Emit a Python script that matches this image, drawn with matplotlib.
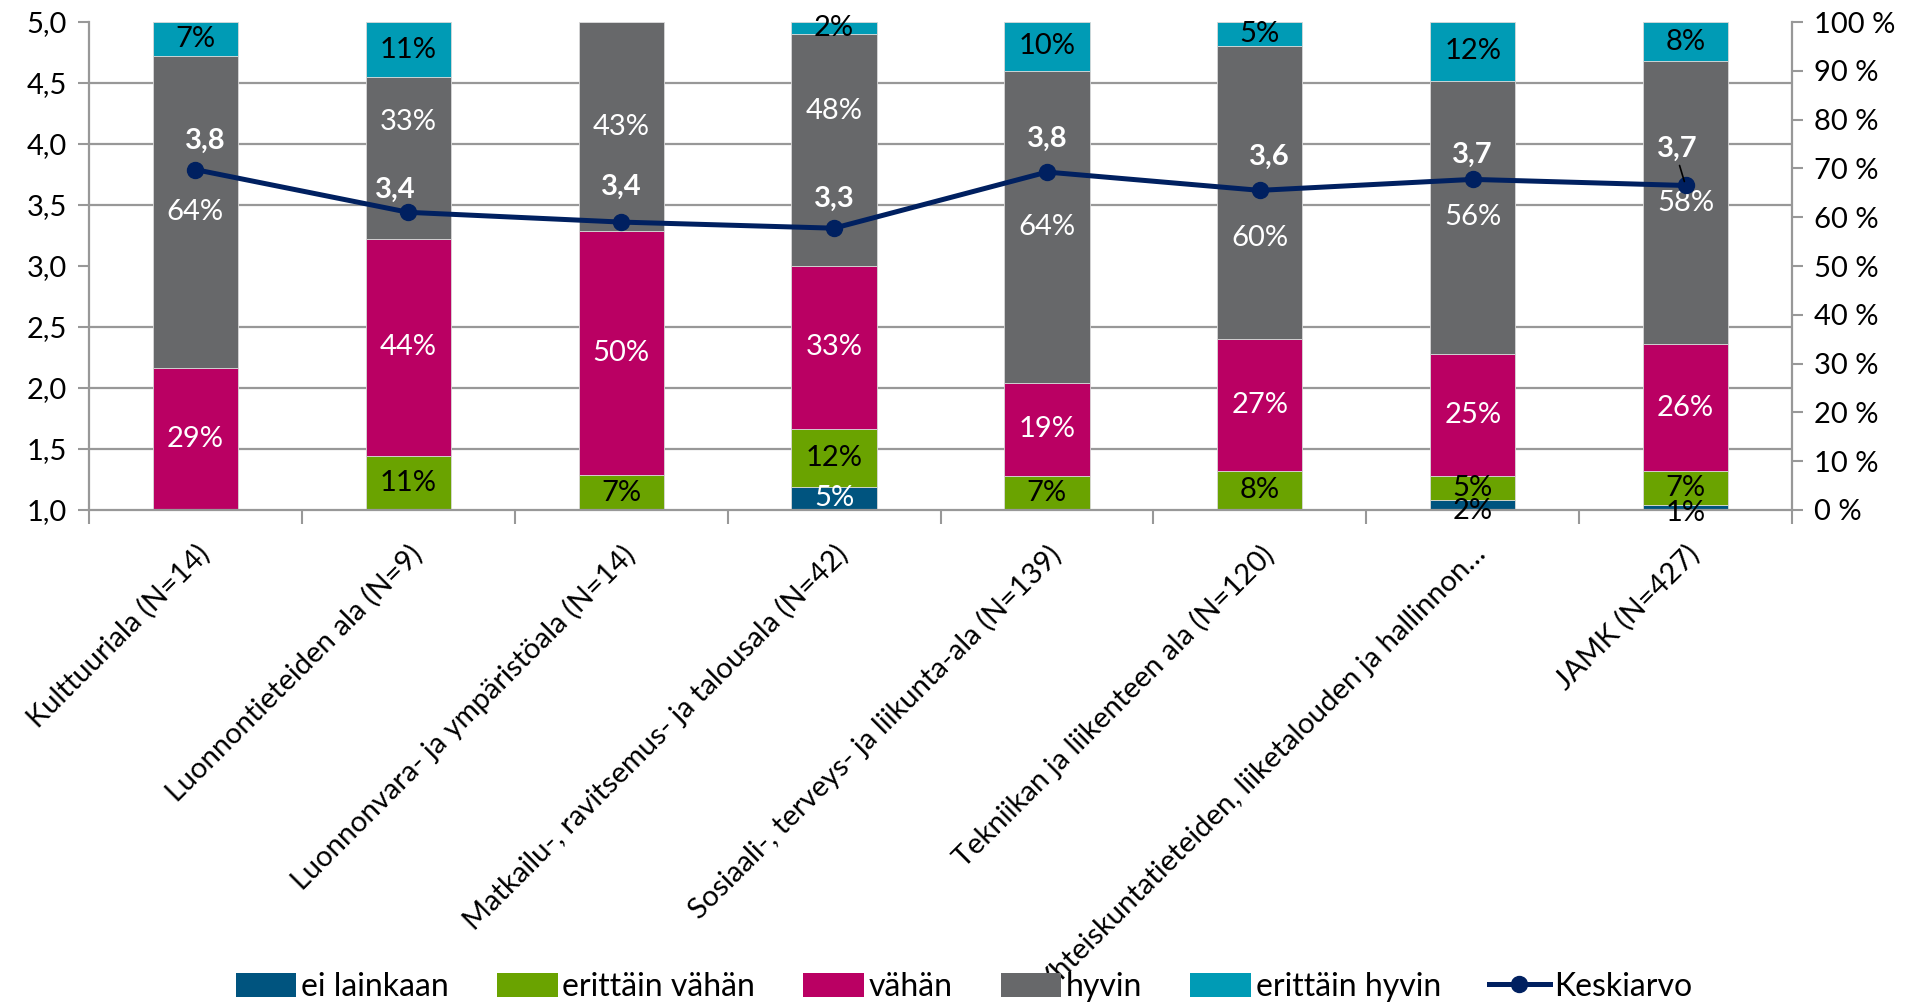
import matplotlib
matplotlib.use("Agg")
import matplotlib.pyplot as plt
import numpy as np
from matplotlib.patches import Patch
from matplotlib.lines import Line2D

plt.rcParams['font.family'] = ['Lato', 'DejaVu Sans']

categories = [
    "Kulttuuriala (N=14)",
    "Luonnontieteiden ala (N=9)",
    "Luonnonvara- ja ympäristöala (N=14)",
    "Matkailu-, ravitsemus- ja talousala (N=42)",
    "Sosiaali-, terveys- ja liikunta-ala (N=139)",
    "Tekniikan ja liikenteen ala (N=120)",
    "Yhteiskuntatieteiden, liiketalouden ja hallinnon…",
    "JAMK (N=427)",
]
series_names = ["ei lainkaan", "erittäin vähän", "vähän", "hyvin", "erittäin hyvin"]
ei_lainkaan    = [0, 0,    0,    4.8,  0,  0,  2,  1]
erittain_vahan = [0, 11.1, 7.1,  11.9, 7,  8,  5,  7]
vahan          = [29, 44.4, 50,  33.3, 19, 27, 25, 26]
hyvin          = [64, 33.3, 42.9, 47.6, 64, 60, 56, 58]
erittain_hyvin = [7, 11.1, 0,    2.4,  10, 5,  12, 8]
keskiarvo = [3.79, 3.44, 3.36, 3.31, 3.77, 3.62, 3.71, 3.66]

left_ticks = [1.0, 1.5, 2.0, 2.5, 3.0, 3.5, 4.0, 4.5, 5.0]
right_ticks = list(range(0, 101, 10))

colors = ["#00547F", "#6AA300", "#BA0063", "#67686A", "#009BB5"]
label_colors = ["white", "black", "white", "white", "black"]
line_color = "#002060"
grid_color = "#989898"

FS = 21

# label nudges (percentage points) and mean-label offsets (pixels)
nudge = {(1, 3): 7.3, (3, 3): 8.0, (5, 3): -9.3, (6, 0): -1.2, (7, 0): -1.2}
label_colors_override = {(6, 0): "black", (7, 0): "black"}
mean_offsets = [(10, 29), (-13, 22), (0, 35), (0, 29), (0, 33), (10, 34), (0, 25), (-8, 37)]

fig = plt.figure(figsize=(19.13, 10.05), dpi=100)
ax = fig.add_axes([89 / 1913, 1 - 510 / 1005, (1792 - 89) / 1913, (510 - 22) / 1005])
ax2 = ax.twinx()

x = np.arange(len(categories))
data = [ei_lainkaan, erittain_vahan, vahan, hyvin, erittain_hyvin]
bottom = np.zeros(len(categories))
for si, vals in enumerate(data):
    vals = np.array(vals, dtype=float)
    ax.bar(x, vals, bottom=bottom, width=0.4, color=colors[si],
           edgecolor="#D8D8D8", linewidth=0.6, zorder=2)
    for ci, v in enumerate(vals):
        if v <= 0:
            continue
        y = bottom[ci] + v / 2 + nudge.get((ci, si), 0)
        ax.text(x[ci], y, f"{round(v)}%", ha="center", va="center",
                fontsize=FS, color=label_colors_override.get((ci, si), label_colors[si]),
                zorder=4)
    bottom += vals

ax.set_xlim(-0.5, len(categories) - 0.5)
ax.set_ylim(0, 100)
ax.yaxis.set_ticks_position("right")
ax.yaxis.set_label_position("right")
ax.set_yticks(right_ticks)
ax.set_yticklabels([f"{t} %" for t in right_ticks], fontsize=FS)
ax.set_yticks(np.arange(0, 100.1, 12.5), minor=True)
ax.tick_params(axis="y", which="minor", length=0, left=False, right=False)
ax.tick_params(axis="y", which="major", length=8, width=1.5, color=grid_color, pad=8,
               left=False, labelleft=False, right=True, labelright=True)
ax.grid(axis="y", which="minor", color=grid_color, linewidth=1.6, zorder=0)
ax.set_axisbelow(True)

ax.set_xticks(x)
ax.set_xticklabels(categories, rotation=45, ha="right", rotation_mode="anchor", fontsize=FS)
ax.set_xticks(np.arange(-0.5, len(categories), 1), minor=True)
ax.tick_params(axis="x", which="major", length=0, pad=22)
ax.tick_params(axis="x", which="minor", length=10, width=1.5, color=grid_color)

ax.spines["top"].set_visible(False)
for s in ["left", "right", "bottom"]:
    ax.spines[s].set_color(grid_color)
    ax.spines[s].set_linewidth(1.6)

ax2.plot(x, keskiarvo, color=line_color, linewidth=3.6, marker="o", markersize=11.5, zorder=5)
ax2.set_ylim(1, 5)
ax2.yaxis.set_ticks_position("left")
ax2.set_yticks(left_ticks)
ax2.set_yticklabels([f"{t:.1f}".replace(".", ",") for t in left_ticks], fontsize=FS)
ax2.tick_params(axis="y", length=8, width=1.5, color=grid_color, pad=8,
                left=True, labelleft=True, right=False, labelright=False)
for s in ["top", "bottom", "left", "right"]:
    ax2.spines[s].set_visible(False)

for ci, m in enumerate(keskiarvo):
    dx, dy = mean_offsets[ci]
    ax2.annotate(f"{m:.1f}".replace(".", ","), (x[ci], m), xytext=(dx, dy),
                 textcoords="offset pixels", ha="center", va="center",
                 fontsize=FS, fontweight="bold", color="white", zorder=6)
# leader line for last label
ax2.annotate("", (x[-1], keskiarvo[-1]), xytext=(-6, 20), textcoords="offset pixels",
             arrowprops=dict(arrowstyle="-", color="black", linewidth=1.2, shrinkA=0, shrinkB=3),
             zorder=6)

handles = [Patch(facecolor=c, edgecolor="none") for c in colors]
handles.append(Line2D([0], [0], color=line_color, linewidth=3.6, marker="o", markersize=11.5))
fig.legend(handles, series_names + ["Keskiarvo"], loc="center", bbox_to_anchor=(0.504, 0.018),
           ncol=6, frameon=False, fontsize=23, handlelength=1.9, handleheight=0.8,
           handletextpad=0.15, columnspacing=1.5)

fig.savefig("out.png", dpi=100)
